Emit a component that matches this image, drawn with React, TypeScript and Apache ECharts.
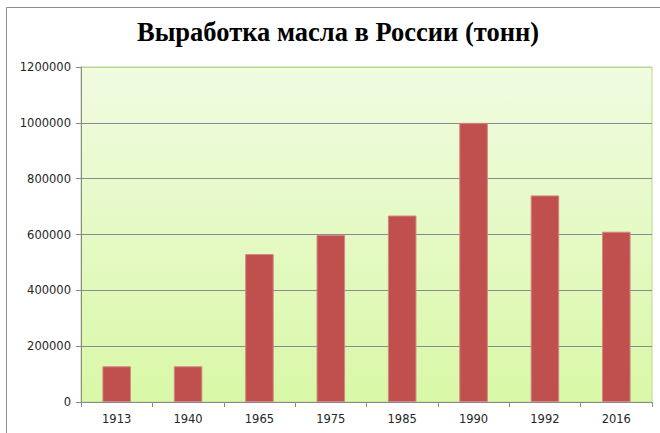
import React, { useEffect, useRef } from "react";
import * as echarts from "echarts";

const titleText = "Выработка масла в России (тонн)";
const categories = ["1913", "1940", "1965", "1975", "1985", "1990", "1992", "2016"];
const production = [128000, 128000, 530000, 598000, 668000, 1000000, 740000, 610000];
const yMin = 0;
const yMax = 1200000;
const yStep = 200000;

export default function App() {
  const ref = useRef<HTMLDivElement>(null);
  useEffect(() => {
    if (!ref.current) return;
    const chart = echarts.init(ref.current, null, { renderer: "svg" });
    const grey = "#8a8a8a";
    const green = "#b9d98d";
    chart.setOption({
      animation: false,
      backgroundColor: "#ffffff",
      title: {
        text: titleText,
        left: 333,
        textAlign: "center",
        top: 13,
        textStyle: {
          fontFamily: "'Liberation Serif', 'Times New Roman', serif",
          fontWeight: "bold",
          fontSize: 26.5,
          color: "#000000",
        },
      },
      graphic: [
        {
          type: "rect",
          shape: { x: 6.5, y: 7.5, width: 700, height: 500 },
          style: { fill: "none", stroke: "#8c8c8c", lineWidth: 1 },
          silent: true,
          z: 100,
        },
      ],
      grid: {
        left: 81,
        top: 67,
        right: 8,
        bottom: 31,
        show: true,
        borderColor: green,
        borderWidth: 1,
        backgroundColor: new echarts.graphic.LinearGradient(0, 0, 0, 1, [
          { offset: 0, color: "#f0fbe1" },
          { offset: 1, color: "#d9f8a7" },
        ]),
      },
      xAxis: {
        type: "category",
        data: categories,
        axisLine: { show: true, lineStyle: { color: grey, width: 1 } },
        axisTick: { show: true, alignWithLabel: false, length: 5, lineStyle: { color: grey } },
        axisLabel: {
          color: "#262626",
          fontFamily: "'DejaVu Sans', Verdana, sans-serif",
          fontSize: 11.5,
          margin: 11,
        },
      },
      yAxis: {
        type: "value",
        min: yMin,
        max: yMax,
        interval: yStep,
        axisLine: { show: true, lineStyle: { color: grey, width: 1 } },
        axisTick: { show: true, length: 5, lineStyle: { color: grey } },
        splitLine: {
          show: true,
          lineStyle: {
            color: [grey, grey, grey, grey, grey, grey, green],
            width: 1,
          },
        },
        axisLabel: {
          color: "#262626",
          fontFamily: "'DejaVu Sans', Verdana, sans-serif",
          fontSize: 11.5,
          margin: 10,
          formatter: (v: number) => String(v),
        },
      },
      series: [
        {
          type: "bar",
          data: production,
          barCategoryGap: "60%",
          itemStyle: {
            color: "#c0504d",
            borderColor: "#d48784",
            borderWidth: 1,
          },
        },
      ],
    });
    return () => chart.dispose();
  }, []);
  return (
    <div
      ref={ref}
      style={{ position: "fixed", left: 0, top: 0, width: 660, height: 433 }}
    />
  );
}
